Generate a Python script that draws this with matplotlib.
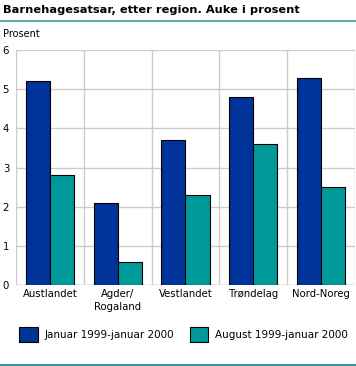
import matplotlib.pyplot as plt
from matplotlib.lines import Line2D
import numpy as np

regions = ['Austlandet', 'Agder/\nRogaland', 'Vestlandet', 'Trøndelag', 'Nord-Noreg']
jan_jan = [5.2, 2.1, 3.7, 4.8, 5.3]
aug_jan = [2.8, 0.6, 2.3, 3.6, 2.5]
series_labels = ['Januar 1999-januar 2000', 'August 1999-januar 2000']
colors = ['#003399', '#009999']

fig = plt.figure(figsize=(3.56, 3.66), dpi=100)
ax = fig.add_axes([0.045, 0.221, 0.952, 0.642])

x = np.arange(len(regions))
w = 0.355
b1 = ax.bar(x - w / 2, jan_jan, w, color=colors[0], edgecolor='black', linewidth=0.8,
            label=series_labels[0], zorder=3)
b2 = ax.bar(x + w / 2, aug_jan, w, color=colors[1], edgecolor='black', linewidth=0.8,
            label=series_labels[1], zorder=3)

ax.set_xlim(-0.5, len(regions) - 0.5)
ax.set_ylim(0, 6)
ax.set_yticks(range(7))
ax.set_xticks(x)
ax.set_xticklabels(regions, fontsize=7.3, linespacing=1.35)
ax.tick_params(axis='both', length=0, labelsize=7.3, colors='black')
ax.tick_params(axis='y', pad=5)
ax.tick_params(axis='x', pad=3)
for xs in np.arange(-0.5, len(regions), 1):
    ax.axvline(xs, color='#cccccc', linewidth=1, zorder=1)
ax.grid(axis='y', color='#cccccc', linewidth=1, zorder=1)
for s in ax.spines.values():
    s.set_visible(False)
ax.axhline(0, color='#cccccc', linewidth=1, zorder=1)

fig.text(0.008, 0.972, 'Barnehagesatsar, etter region. Auke i prosent', fontsize=8.2,
         fontweight='bold', va='center', ha='left')
fig.add_artist(Line2D([0, 1], [0.943, 0.943], color='#339999', linewidth=1.2))
fig.add_artist(Line2D([0, 1], [0.003, 0.003], color='#339999', linewidth=1.5))
fig.text(0.008, 0.907, 'Prosent', fontsize=7, va='center', ha='left')

fig.legend(handles=[b1, b2], loc='center left', bbox_to_anchor=(0.04, 0.087), ncol=2,
           frameon=False, fontsize=7.5, handlelength=1.8, handleheight=1.8,
           handletextpad=0.6, columnspacing=1.5, borderpad=0)

fig.savefig('out.png', dpi=100)
